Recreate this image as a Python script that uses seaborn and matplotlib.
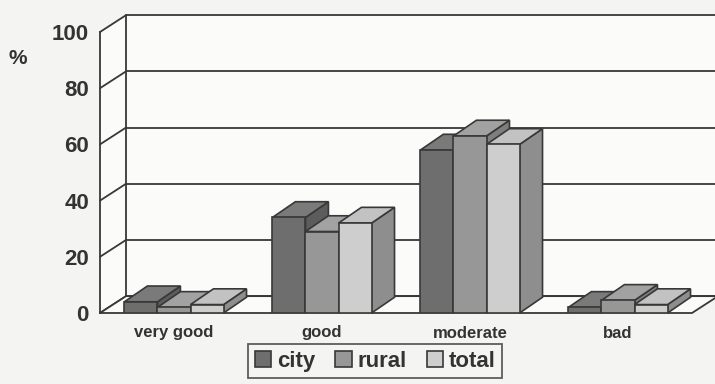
import matplotlib
matplotlib.use("Agg")
import matplotlib.pyplot as plt
from matplotlib.patches import Polygon, Patch
import numpy as np
import pandas as pd
import seaborn as sns

# data
categories = ["very good", "good", "moderate", "bad"]
groups = ["city", "rural", "total"]
city = [4, 34, 58, 2]
rural = [2, 29, 63, 4.5]
total = [3, 32, 60, 3]
y_ticks = [0, 20, 40, 60, 80, 100]

front_cols = ["#6e6e6e", "#979797", "#cecece"]
top_cols = ["#7a7a7a", "#a2a2a2", "#c2c2c2"]
side_cols = ["#5c5c5c", "#7e7e7e", "#8e8e8e"]
line = "#383838"
txt = "#333333"
bg = "#f4f4f2"
wall = "#fbfbfa"

df = pd.DataFrame({
    "category": categories * 3,
    "group": sum([[g] * len(categories) for g in groups], []),
    "value": city + rural + total,
})

sns.set_style("white")
plt.rcParams["font.family"] = ["Liberation Sans", "DejaVu Sans"]
plt.rcParams["font.weight"] = "bold"

fig = plt.figure(figsize=(7.15, 3.84), dpi=100, facecolor=bg)
ax = fig.add_axes([100 / 715, 71 / 384, 592 / 715, 281 / 384])
ax.set_facecolor("none")

# depth of the 3d box and of the bars, in data units
dxw, dyw = 0.176, 6.0
dxb, dyb = 0.155, 5.6
x0, x1 = -0.5, 3.5

# floor, back wall, left wall
ax.add_patch(Polygon([(x0 + dxw, dyw), (x1 + dxw, dyw), (x1 + dxw, 100 + dyw), (x0 + dxw, 100 + dyw)],
                     closed=True, facecolor=wall, edgecolor="none", zorder=0.5, clip_on=False))
ax.add_patch(Polygon([(x0, 0), (x0 + dxw, dyw), (x0 + dxw, 100 + dyw), (x0, 100)],
                     closed=True, facecolor=wall, edgecolor="none", zorder=0.5, clip_on=False))
for v in y_ticks:
    ax.plot([x0 + dxw, x1 + dxw], [v + dyw, v + dyw], color=line, lw=1.3, zorder=0.6, clip_on=False)
    ax.plot([x0, x0 + dxw], [v, v + dyw], color=line, lw=1.3, zorder=0.6, clip_on=False)
ax.plot([x0 + dxw, x0 + dxw], [dyw, 100 + dyw], color=line, lw=1.3, zorder=0.6, clip_on=False)
ax.add_patch(Polygon([(x0, 0), (x1, 0), (x1 + dxw, dyw), (x0 + dxw, dyw)],
                     closed=True, facecolor=wall, edgecolor=line, lw=1.3, zorder=0.7, clip_on=False))

sns.barplot(data=df, x="category", y="value", hue="group", palette=front_cols,
            width=0.67, saturation=1, edgecolor=line, linewidth=1.2, legend=False, ax=ax)

# add top and side faces to every bar, left to right
bars = sorted(ax.patches[-12:], key=lambda p: p.get_x())
for i, p in enumerate(bars):
    gi = front_cols.index(matplotlib.colors.to_hex(p.get_facecolor()))
    bx, bw, bh = p.get_x(), p.get_width(), p.get_height()
    z = 2 + i * 0.1
    ax.add_patch(Polygon([(bx + bw, 0), (bx + bw + dxb, dyb), (bx + bw + dxb, bh + dyb), (bx + bw, bh)],
                         closed=True, facecolor=side_cols[gi], edgecolor=line, lw=1.2, zorder=z, clip_on=False))
    ax.add_patch(Polygon([(bx, bh), (bx + dxb, bh + dyb), (bx + bw + dxb, bh + dyb), (bx + bw, bh)],
                         closed=True, facecolor=top_cols[gi], edgecolor=line, lw=1.2, zorder=z + 0.01, clip_on=False))
    p.set_zorder(z + 0.02)

ax.set_xlim(x0, x1)
ax.set_ylim(0, 100)
ax.set_yticks(y_ticks)
ax.set_xlabel("")
ax.set_ylabel("")
for s in ["top", "right", "bottom"]:
    ax.spines[s].set_visible(False)
ax.spines["left"].set_color(line)
ax.spines["left"].set_linewidth(1.3)
ax.spines["left"].set_zorder(0.8)
ax.tick_params(axis="y", direction="out", length=5, width=1.3, color=line, pad=3,
               labelsize=16, labelcolor=txt)
ax.tick_params(axis="x", which="major", length=0, pad=9, labelsize=12, labelcolor=txt)
ax.set_xticks([0.5, 1.5, 2.5, 3.5], minor=True)
ax.tick_params(axis="x", which="minor", direction="out", length=5, width=1.3, color=line)
for t in ax.get_yticklabels() + ax.get_xticklabels():
    t.set_fontweight("bold")

fig.text(18 / 715, 1 - 59 / 384, "%", fontsize=15, color=txt, ha="center", va="center")

handles = [Patch(facecolor=c, edgecolor=line, lw=1.2) for c in front_cols]
leg = fig.legend(handles, groups, loc="upper left", bbox_to_anchor=(248 / 715, 40 / 384),
                 ncol=3, frameon=True, fancybox=False, edgecolor=line, facecolor=bg,
                 borderaxespad=0, handlelength=0.75, handleheight=0.75, handletextpad=0.25,
                 columnspacing=0.9, borderpad=0.3, prop={"size": 16, "weight": "bold"})
leg.get_frame().set_linewidth(1.3)
for t in leg.get_texts():
    t.set_color(txt)

fig.savefig("out.png", dpi=100, facecolor=bg)
